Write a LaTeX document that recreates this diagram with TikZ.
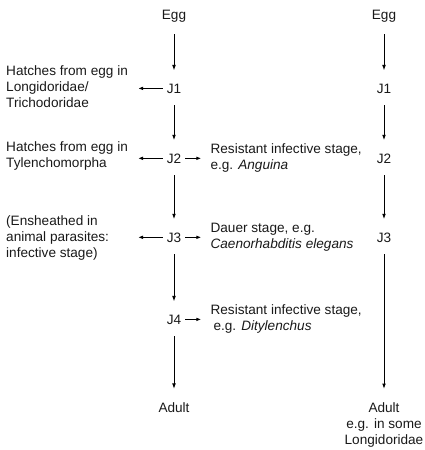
\documentclass[tikz,border=0pt]{standalone}
\usepackage{fontspec}
\setmainfont{Liberation Sans}
\usetikzlibrary{positioning, arrows.meta}

\tikzset{
  stage/.style={inner sep=0pt, anchor=base},
  note/.style={inner sep=0pt, align=left},
  stem/.style={-{Latex[length=5.5pt,width=3.8pt]}, line width=1pt, shorten <=12pt, shorten >=13pt},
  side/.style={-{Latex[length=5pt,width=3.6pt]}, line width=1pt, shorten <=4pt},
}

\begin{document}
\begin{tikzpicture}[x=1pt, y=-1pt, font=\fontsize{13.6}{16}\selectfont, text=black!90]
  \useasboundingbox (0,0) rectangle (425,450);

  % Left column: stages
  \node[stage] (egg) at (174,19) {Egg};
  \node[stage] (j1) at (174,93) {J1};
  \node[stage] (j2) at (174,163) {J2};
  \node[stage] (j3) at (174,242) {J3};
  \node[stage] (j4) at (174,324) {J4};
  \node[stage] (adult) at (174,412) {Adult};

  % Right column: stages
  \node[stage] (egg2) at (384,19) {Egg};
  \node[stage] (j12) at (384,93) {J1};
  \node[stage] (j22) at (384,163) {J2};
  \node[stage] (j32) at (384,242) {J3};
  \node[inner sep=0pt, align=center, anchor=north] (adult2) at (384,402) {Adult\\e.g. in some\\Longidoridae};

  % Notes on the left
  \node[note, anchor=north west] (hatch1) at (6,65) {Hatches from egg in\\Longidoridae/\\Trichodoridae};
  \node[note, anchor=north west] (hatch2) at (6,141) {Hatches from egg in\\Tylenchomorpha};
  \node[note, anchor=north west] (sheath) at (6,215) {(Ensheathed in\\animal parasites:\\infective stage)};

  % Notes on the right of the stages
  \node[note, right=29pt of j2] (anguina) {Resistant infective stage,\\e.g. \textit{Anguina}};
  \node[note, right=29pt of j3] (dauer) {Dauer stage, e.g.\\\textit{Caenorhabditis elegans}};
  \node[note, right=29pt of j4] (dity) {Resistant infective stage,\\\hspace*{3pt}e.g. \textit{Ditylenchus}};

  % Free ends of the left arrows
  \coordinate (ledge) at (138,0);
  \coordinate (t1) at (j1 -| ledge);
  \coordinate (t2) at (j2 -| ledge);
  \coordinate (t3) at (j3 -| ledge);

  % Connect the stages
  \draw[stem] (egg) -- (j1);
  \draw[stem] (j1) -- (j2);
  \draw[stem] (j2) -- (j3);
  \draw[stem] (j3) -- (j4);
  \draw[stem] (j4) -- (adult);
  \draw[stem] (egg2) -- (j12);
  \draw[stem] (j12) -- (j22);
  \draw[stem] (j22) -- (j32);
  \draw[stem] (j32) -- (adult2);

  % Side arrows
  \draw[side] (j1) -- (t1);
  \draw[side] (j2) -- (t2);
  \draw[side] (j3) -- (t3);
  \draw[side, shorten >=9pt] (j2) -- (anguina);
  \draw[side, shorten >=9pt] (j3) -- (dauer);
  \draw[side, shorten >=9pt] (j4) -- (dity);

\end{tikzpicture}
\end{document}
